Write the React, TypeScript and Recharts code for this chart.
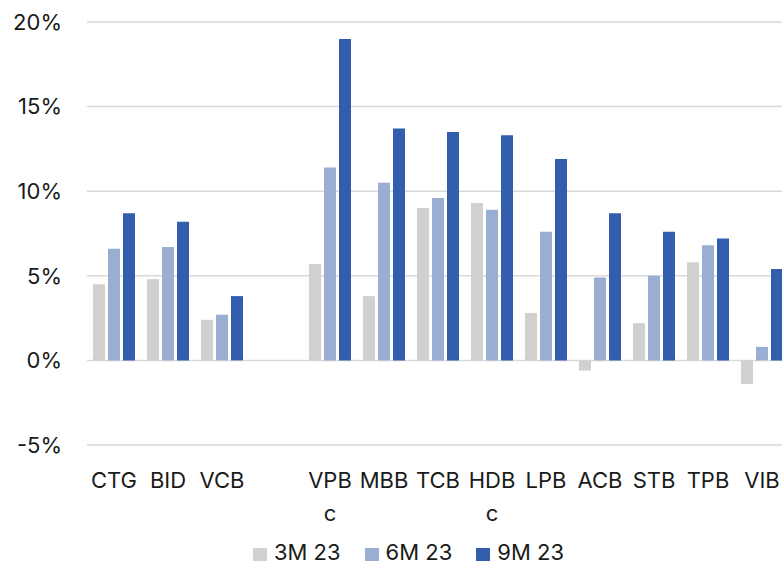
import {
  BarChart,
  Bar,
  XAxis,
  YAxis,
  CartesianGrid,
  Legend,
} from "recharts";

const banks = ["CTG", "BID", "VCB", "", "VPBc", "MBB", "TCB", "HDBc", "LPB", "ACB", "STB", "TPB", "VIB"];
const m3 = [4.5, 4.8, 2.4, null, 5.7, 3.8, 9.0, 9.3, 2.8, -0.6, 2.2, 5.8, -1.4];
const m6 = [6.6, 6.7, 2.7, null, 11.4, 10.5, 9.6, 8.9, 7.6, 4.9, 5.0, 6.8, 0.8];
const m9 = [8.7, 8.2, 3.8, null, 19.0, 13.7, 13.5, 13.3, 11.9, 8.7, 7.6, 7.2, 5.4];
const yTicks = [-5, 0, 5, 10, 15, 20];

const series = [
  { key: "m3", name: "3M 23", color: "#d0d0d0" },
  { key: "m6", name: "6M 23", color: "#9aaed4" },
  { key: "m9", name: "9M 23", color: "#335ead" },
];

const data = banks.map((b, i) => ({ bank: b, m3: m3[i], m6: m6[i], m9: m9[i] }));

const FONT = "Inter, 'DejaVu Sans', sans-serif";
const FS = 22;

// excel wraps the long ones after 3 letters
const BankTick = (props: any) => {
  const { x, y, payload } = props;
  const v: string = payload.value || "";
  if (!v) return null;
  const lines = v.length > 3 ? [v.slice(0, 3), v.slice(3)] : [v];
  return (
    <text x={x} y={y} textAnchor="middle" fill="#1a1a1a" fontSize={FS} fontFamily={FONT}>
      {lines.map((l, i) => (
        <tspan key={i} x={x} dy={i === 0 ? 35 : 33}>
          {l}
        </tspan>
      ))}
    </text>
  );
};

const LegendBox = () => (
  <div style={{ display: "flex", justifyContent: "center", fontFamily: FONT, fontSize: FS, lineHeight: "24px", color: "#1a1a1a", paddingLeft: 52, marginTop: 0 }}>
    {series.map((s) => (
      <div key={s.key} style={{ display: "flex", alignItems: "center", marginRight: 24 }}>
        <span style={{ width: 14, height: 13, background: s.color, marginRight: 7, marginTop: 4, display: "inline-block" }} />
        <span>{s.name}</span>
      </div>
    ))}
  </div>
);

export default function App() {
  return (
    <div style={{ position: "fixed", left: 0, top: 0, width: 782, height: 566, overflow: "hidden", background: "#fff" }}>
      <BarChart
        width={790}
        height={566}
        data={data}
        margin={{ top: 22, right: 1, left: 0, bottom: 0 }}
        barSize={12}
        barGap={3}
      >
        <CartesianGrid vertical={false} stroke="#d9d9d9" strokeWidth={1.5} />
        <XAxis
          dataKey="bank"
          axisLine={false}
          tickLine={false}
          height={95}
          interval={0}
          tick={<BankTick />}
        />
        <YAxis
          domain={[-5, 20]}
          ticks={yTicks}
          width={87}
          axisLine={false}
          tickLine={false}
          tickSize={0}
          tickMargin={25}
          tickFormatter={(v: number) => `${v}%`}
          tick={{ fill: "#1a1a1a", fontSize: FS, fontFamily: FONT }}
        />
        <Legend verticalAlign="bottom" content={<LegendBox />} wrapperStyle={{ height: 26 }} />
        {series.map((s) => (
          <Bar key={s.key} dataKey={s.key} name={s.name} fill={s.color} isAnimationActive={false} />
        ))}
      </BarChart>
    </div>
  );
}
